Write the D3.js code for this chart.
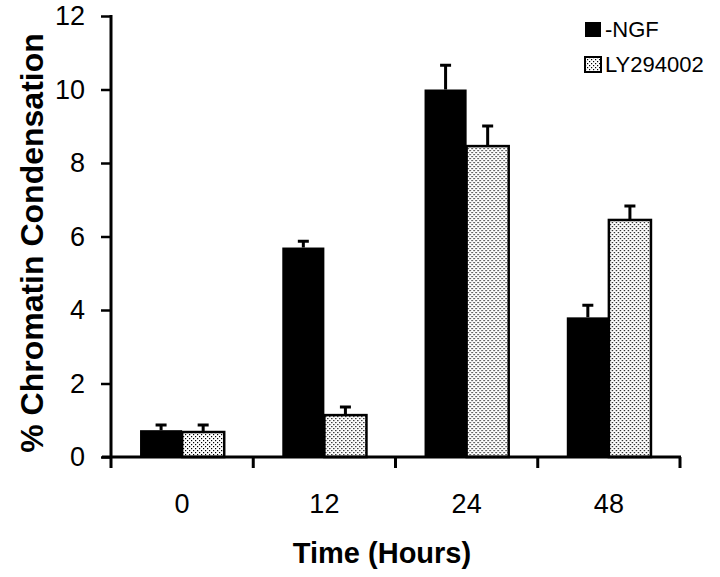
<!DOCTYPE html>
<html>
<head>
<meta charset="utf-8">
<script src="https://cdn.jsdelivr.net/npm/d3@7"></script>
<style>
  body { margin: 0; background: #fff; }
  svg { display: block; font-family: "Liberation Sans", Arial, Helvetica, sans-serif; }
</style>
</head>
<body>
<div id="container"></div>
<script>
/* DATA */
const hours = ["0", "12", "24", "48"];
const seriesNames = ["-NGF", "LY294002"];
const ngfValues = [0.73, 5.7, 10.0, 3.8];
const ngfErrors = [0.14, 0.17, 0.66, 0.33];
const lyValues = [0.68, 1.14, 8.46, 6.45];
const lyErrors = [0.19, 0.22, 0.55, 0.38];
const yTicks = [0, 2, 4, 6, 8, 10, 12];

/* SIZE */
const width = 720, height = 577;
const margin = { top: 16, right: 40, bottom: 120, left: 111 };
const plotW = 680 - margin.left, plotH = 457 - margin.top;

const svg = d3.select("#container").append("svg")
  .attr("width", width)
  .attr("height", height);

// stipple pattern
const defs = svg.append("defs");
const pat = defs.append("pattern")
  .attr("id", "stipple")
  .attr("patternUnits", "userSpaceOnUse")
  .attr("width", 4).attr("height", 4);
pat.append("rect").attr("width", 4).attr("height", 4).attr("fill", "#fff");
pat.append("rect").attr("x", 0).attr("y", 0).attr("width", 1.2).attr("height", 1.2).attr("fill", "#000");
pat.append("rect").attr("x", 2).attr("y", 2).attr("width", 1.2).attr("height", 1.2).attr("fill", "#000");

const g = svg.append("g")
  .attr("transform", "translate(" + margin.left + "," + margin.top + ")");

/* SCALES */
const x0 = d3.scaleBand().domain(hours).range([0, plotW]).padding(0);
const x1 = d3.scaleBand().domain(seriesNames).range([0, x0.bandwidth()])
  .paddingInner(0).paddingOuter(0.69);
const y = d3.scaleLinear().domain([0, 12]).range([plotH, 0]);

const rows = hours.map((h, i) => ({
  hour: h,
  bars: [
    { key: seriesNames[0], value: ngfValues[i], err: ngfErrors[i] },
    { key: seriesNames[1], value: lyValues[i], err: lyErrors[i] }
  ]
}));

/* BARS */
const groups = g.selectAll(".grp")
  .data(rows)
  .join("g")
  .attr("class", "grp")
  .attr("transform", d => "translate(" + x0(d.hour) + ",0)");

groups.selectAll("rect")
  .data(d => d.bars)
  .join("rect")
  .attr("x", d => x1(d.key))
  .attr("y", d => y(d.value))
  .attr("width", x1.bandwidth())
  .attr("height", d => plotH - y(d.value))
  .attr("fill", d => d.key === seriesNames[0] ? "#000" : "url(#stipple)")
  .attr("stroke", "#000")
  .attr("stroke-width", d => d.key === seriesNames[0] ? 0 : 2.5);

// error bars (upper only)
groups.selectAll(".err")
  .data(d => d.bars)
  .join("path")
  .attr("class", "err")
  .attr("fill", "none")
  .attr("stroke", "#000")
  .attr("stroke-width", 3)
  .attr("d", d => {
    const cx = x1(d.key) + x1.bandwidth() / 2;
    const top = y(d.value + d.err);
    return "M" + cx + "," + y(d.value) + "V" + top + "M" + (cx - 5.5) + "," + top + "H" + (cx + 5.5);
  });

/* Y AXIS */
const yAxis = g.append("g")
  .call(d3.axisLeft(y).tickValues(yTicks).tickSize(10).tickSizeOuter(0).tickPadding(16));
yAxis.select(".domain").remove();
yAxis.selectAll(".tick line").attr("stroke-width", 2.5);
yAxis.selectAll("text").attr("font-size", 27).attr("fill", "#000")
  .style("font-family", "'Liberation Sans', Arial, sans-serif");

g.append("line")
  .attr("x1", 0).attr("x2", 0)
  .attr("y1", y(12) - 1).attr("y2", plotH + 11)
  .attr("stroke", "#000").attr("stroke-width", 3);

/* X AXIS */
const xAxis = g.append("g")
  .attr("transform", "translate(0," + plotH + ")")
  .call(d3.axisBottom(x0).tickSize(0).tickPadding(37));
xAxis.select(".domain").remove();
xAxis.selectAll("text").attr("font-size", 27).attr("fill", "#000")
  .style("font-family", "'Liberation Sans', Arial, sans-serif");

g.append("line")
  .attr("x1", -9).attr("x2", plotW + 1)
  .attr("y1", plotH).attr("y2", plotH)
  .attr("stroke", "#000").attr("stroke-width", 3);

g.selectAll(".btick")
  .data(hours)
  .join("line")
  .attr("class", "btick")
  .attr("x1", d => x0(d) + x0.bandwidth())
  .attr("x2", d => x0(d) + x0.bandwidth())
  .attr("y1", plotH).attr("y2", plotH + 11)
  .attr("stroke", "#000").attr("stroke-width", 3);

/* AXIS LABELS */
svg.append("text")
  .attr("x", 382)
  .attr("y", 563)
  .attr("text-anchor", "middle")
  .attr("font-size", 29)
  .attr("font-weight", "bold")
  .text("Time (Hours)");

svg.append("text")
  .attr("transform", "translate(43,243) rotate(-90)")
  .attr("text-anchor", "middle")
  .attr("font-size", 32)
  .attr("font-weight", "bold")
  .text("% Chromatin Condensation");

/* LEGEND */
const legend = svg.append("g").attr("transform", "translate(585,22)");
const items = legend.selectAll("g")
  .data(seriesNames)
  .join("g")
  .attr("transform", (d, i) => "translate(0," + i * 35 + ")");
items.append("rect")
  .attr("width", 16).attr("height", 15)
  .attr("fill", (d, i) => i === 0 ? "#000" : "url(#stipple)")
  .attr("stroke", "#000")
  .attr("stroke-width", (d, i) => i === 0 ? 0 : 2);
items.append("text")
  .attr("x", 20)
  .attr("y", 15)
  .attr("font-size", 22)
  .text(d => d);
</script>
</body>
</html>
